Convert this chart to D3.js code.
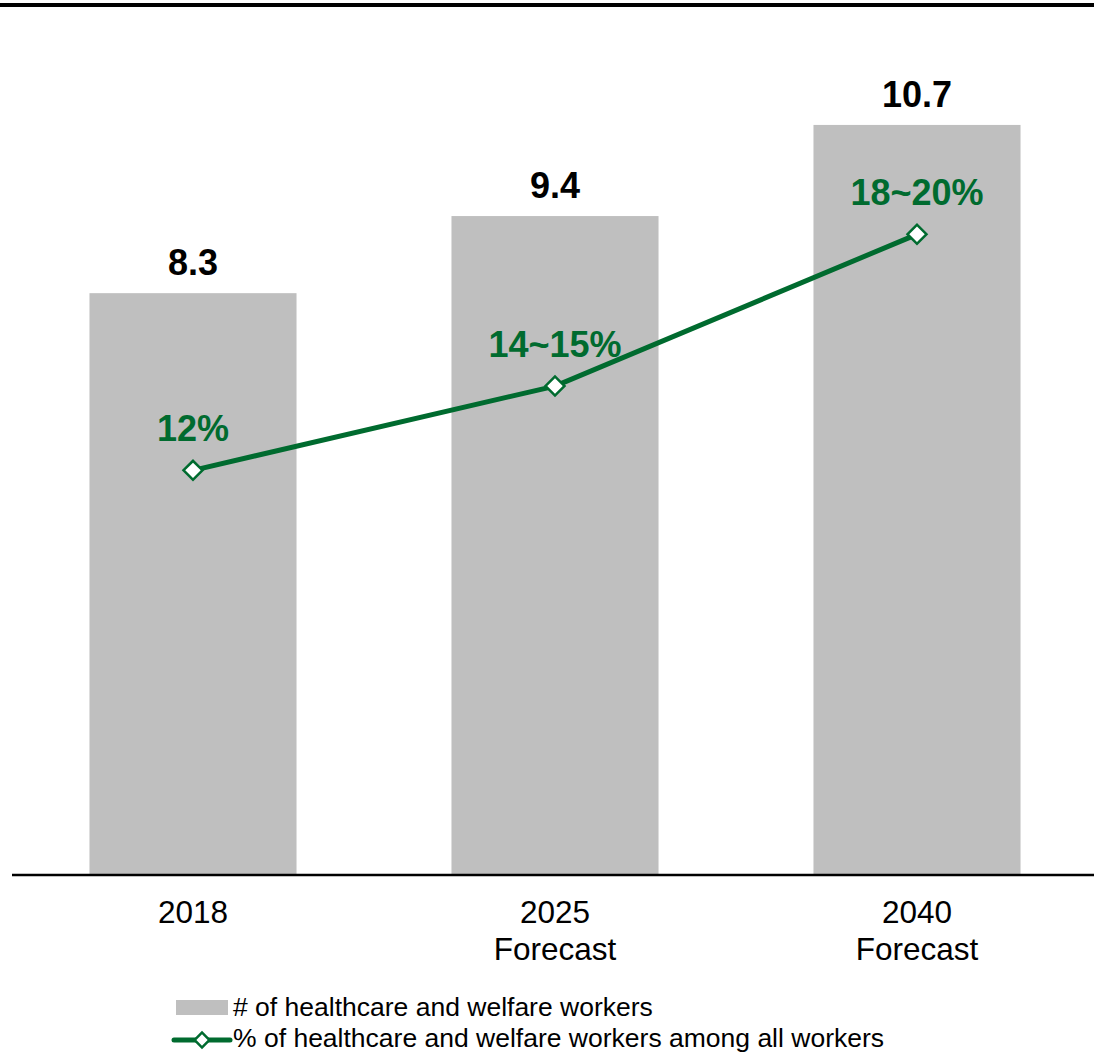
<!DOCTYPE html>
<html>
<head>
<meta charset="utf-8">
<script src="https://cdn.jsdelivr.net/npm/d3@7"></script>
<style>
  html, body { margin: 0; padding: 0; background: #ffffff; }
  svg { display: block; font-family: "Liberation Sans", Arial, sans-serif; }
</style>
</head>
<body>
<svg id="chart" width="1094" height="1053"></svg>
<script>
// Healthcare and welfare workforce, millions of workers, with share of all workers
const categories = ["2018", "2025", "2040"];
const categoryLines = [["2018"], ["2025", "Forecast"], ["2040", "Forecast"]];
const workers = [8.3, 9.4, 10.7];
const workerLabels = ["8.3", "9.4", "10.7"];
const sharePct = [12, 14.5, 19];
const shareLabels = ["12%", "14~15%", "18~20%"];
const legendLabels = [
  "# of healthcare and welfare workers",
  "% of healthcare and welfare workers among all workers"
];

const GREEN = "#006B2F";
const GRAY = "#BFBFBF";

const svg = d3.select("#chart");
const W = 1094;
const baseY = 875;

const x = d3.scaleBand()
  .domain(categories)
  .range([12, 1098])
  .paddingInner(0.428)
  .paddingOuter(0.214);

const y = d3.scaleLinear().domain([0, 12]).range([baseY, baseY - 12 * 70.1]);
const y2 = d3.scaleLinear().domain([0, 24]).range([baseY, baseY - 24 * 33.72]);

// top rule
svg.append("line")
  .attr("x1", 0).attr("x2", W)
  .attr("y1", 5).attr("y2", 5)
  .attr("stroke", "#000").attr("stroke-width", 4);

// bars
svg.append("g").selectAll("rect")
  .data(categories)
  .join("rect")
  .attr("x", d => x(d))
  .attr("y", (d, i) => y(workers[i]))
  .attr("width", x.bandwidth())
  .attr("height", (d, i) => y(0) - y(workers[i]))
  .attr("fill", GRAY);

// bar value labels
svg.append("g").selectAll("text")
  .data(categories)
  .join("text")
  .attr("x", d => x(d) + x.bandwidth() / 2)
  .attr("y", (d, i) => y(workers[i]) - 18)
  .attr("text-anchor", "middle")
  .attr("font-size", 36)
  .attr("font-weight", "bold")
  .attr("fill", "#000")
  .text((d, i) => workerLabels[i]);

// baseline axis
const xAxis = d3.axisBottom(x).tickSize(0).tickFormat("");
const axisG = svg.append("g")
  .attr("transform", `translate(0,${baseY})`)
  .call(xAxis);
axisG.select(".domain").remove();
axisG.append("line")
  .attr("x1", 12).attr("x2", W)
  .attr("y1", 0).attr("y2", 0)
  .attr("stroke", "#000").attr("stroke-width", 2.5);

// category labels
const catG = svg.append("g").selectAll("text")
  .data(categories)
  .join("text")
  .attr("x", d => x(d) + x.bandwidth() / 2)
  .attr("y", 923)
  .attr("text-anchor", "middle")
  .attr("font-size", 31.5)
  .attr("fill", "#000");
catG.each(function(d, i) {
  const t = d3.select(this);
  categoryLines[i].forEach((ln, j) => {
    t.append("tspan")
      .attr("x", x(d) + x.bandwidth() / 2)
      .attr("dy", j === 0 ? 0 : 37)
      .text(ln);
  });
});

// share line
const cx = d => x(d) + x.bandwidth() / 2;
const line = d3.line()
  .x((d, i) => cx(categories[i]))
  .y(d => y2(d));
svg.append("path")
  .datum(sharePct)
  .attr("d", line)
  .attr("fill", "none")
  .attr("stroke", GREEN)
  .attr("stroke-width", 5);

const diamond = d3.symbol().type(d3.symbolSquare).size(180);
svg.append("g").selectAll("path")
  .data(sharePct)
  .join("path")
  .attr("d", diamond)
  .attr("transform", (d, i) => `translate(${cx(categories[i])},${y2(d)}) rotate(45)`)
  .attr("fill", "#fff")
  .attr("stroke", GREEN)
  .attr("stroke-width", 2.5);

// share labels
svg.append("g").selectAll("text")
  .data(sharePct)
  .join("text")
  .attr("x", (d, i) => cx(categories[i]))
  .attr("y", d => y2(d) - 29)
  .attr("text-anchor", "middle")
  .attr("font-size", 36)
  .attr("font-weight", "bold")
  .attr("fill", GREEN)
  .text((d, i) => shareLabels[i]);

// legend
const lg = svg.append("g");
lg.append("rect")
  .attr("x", 176).attr("y", 1000)
  .attr("width", 52).attr("height", 15)
  .attr("fill", GRAY);
lg.append("text")
  .attr("x", 233).attr("y", 1016)
  .attr("font-size", 26.5).attr("fill", "#000")
  .text(legendLabels[0]);
lg.append("line")
  .attr("x1", 174).attr("x2", 230)
  .attr("y1", 1040).attr("y2", 1040)
  .attr("stroke", GREEN).attr("stroke-width", 5)
  .attr("stroke-linecap", "round");
lg.append("path")
  .attr("d", d3.symbol().type(d3.symbolSquare).size(110))
  .attr("transform", "translate(202,1040) rotate(45)")
  .attr("fill", "#fff")
  .attr("stroke", GREEN)
  .attr("stroke-width", 2.5);
lg.append("text")
  .attr("x", 233).attr("y", 1047)
  .attr("font-size", 26.5).attr("fill", "#000")
  .text(legendLabels[1]);
</script>
</body>
</html>
